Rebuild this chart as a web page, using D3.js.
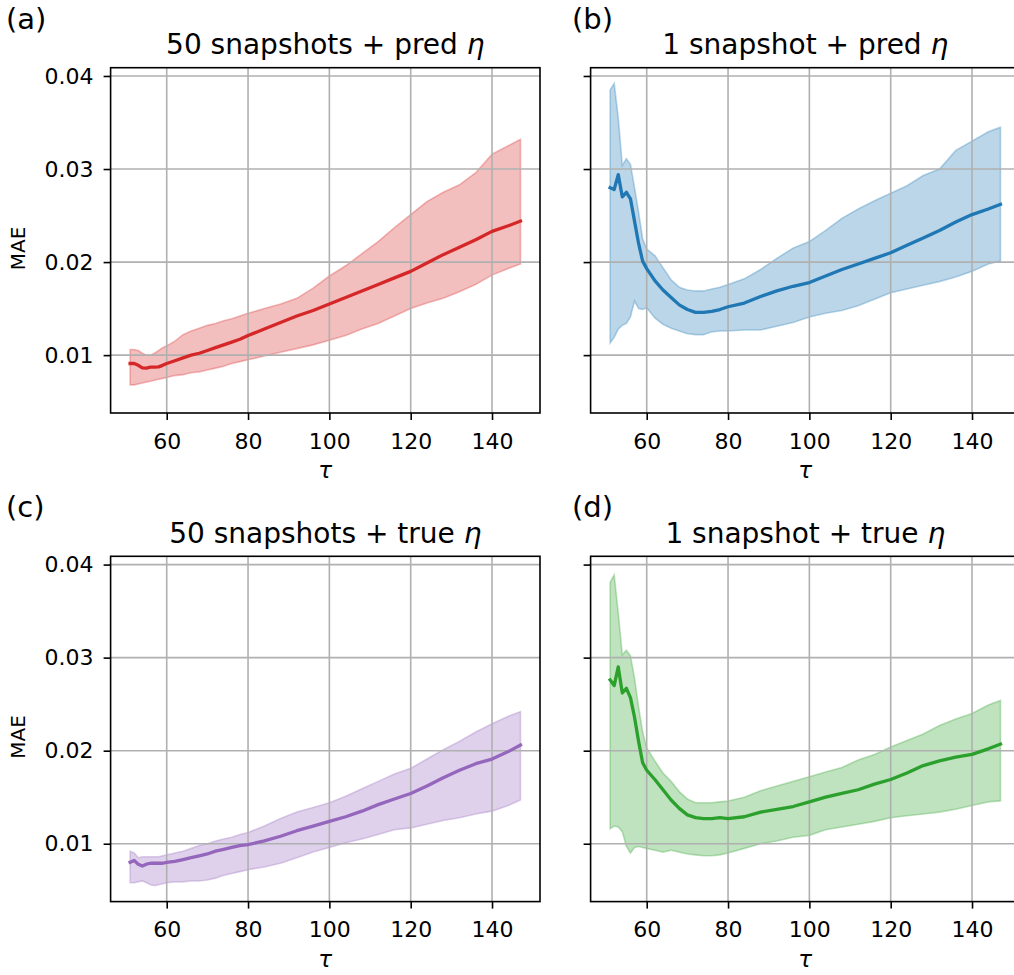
<!DOCTYPE html>
<html>
<head>
<style>
  body { margin: 0; background: #fff; }
  svg { display: block; }
  text { font-family: "DejaVu Sans", sans-serif; fill: #000; }
</style>
</head>
<body>
<svg></svg>
<script src="https://d3js.org/d3.v7.min.js"></script>
<script>
// tau sampling points
const tau = [51,52,53,54,55,56,57,58,59,60,62,64,66,68,70,72,74,76,78,80,84,88,92,96,100,104,108,112,116,120,124,128,132,136,140,144,147];

// (a) 50 snapshots + pred eta
const aMean = [0.0091,0.0091,0.0089,0.00863,0.0086,0.0087,0.0087,0.00874,0.0089,0.0091,0.0094,0.0097,0.0100,0.0102,0.0105,0.0108,0.0111,0.0114,0.0117,0.0121,0.0128,0.0135,0.0142,0.0148,0.0155,0.0162,0.0169,0.0176,0.0183,0.0190,0.0199,0.0208,0.0216,0.0224,0.0233,0.0239,0.0244];
const aHigh = [0.0106,0.0106,0.0105,0.0102,0.0100,0.0100,0.0102,0.0105,0.0108,0.0110,0.0115,0.0122,0.0126,0.0129,0.0132,0.0134,0.0137,0.0139,0.0142,0.0145,0.0150,0.0155,0.0161,0.0172,0.0185,0.0196,0.0209,0.0222,0.0237,0.0251,0.0265,0.0275,0.0283,0.0296,0.0316,0.0325,0.0332];
const aLow  = [0.0068,0.0068,0.0069,0.0070,0.0071,0.0072,0.0073,0.0074,0.0075,0.0076,0.0078,0.0079,0.0081,0.0082,0.0084,0.0086,0.0088,0.0091,0.0093,0.0095,0.0099,0.0103,0.0107,0.0111,0.0116,0.0121,0.0128,0.0134,0.0142,0.0150,0.0156,0.0161,0.0168,0.0176,0.0186,0.0193,0.0198];

// (b) 1 snapshot + pred eta
const bMean = [0.0280,0.0278,0.0294,0.0270,0.0275,0.0268,0.0244,0.0220,0.0201,0.0193,0.0180,0.0170,0.0162,0.0154,0.0149,0.0146,0.0146,0.0147,0.0149,0.0152,0.0156,0.0163,0.0169,0.0174,0.0178,0.0185,0.0192,0.0198,0.0204,0.0210,0.0218,0.0226,0.0234,0.0243,0.0251,0.0257,0.0262];
const bHigh = [0.0385,0.0392,0.0355,0.0304,0.0311,0.0305,0.0280,0.0254,0.0225,0.0214,0.0207,0.0194,0.0181,0.0173,0.0170,0.0169,0.0169,0.0171,0.0173,0.0176,0.0182,0.0192,0.0204,0.0215,0.0222,0.0234,0.0247,0.0257,0.0266,0.0274,0.0282,0.0293,0.0300,0.0320,0.0330,0.0340,0.0345];
const bLow  = [0.0113,0.0119,0.0128,0.0132,0.0134,0.0141,0.0158,0.0150,0.0149,0.0151,0.0140,0.0133,0.0129,0.0126,0.0123,0.0122,0.0122,0.0125,0.0126,0.0126,0.0127,0.0127,0.0131,0.0135,0.0141,0.0145,0.0148,0.0153,0.0160,0.0167,0.0171,0.0175,0.0179,0.0184,0.0190,0.0198,0.0201];

// (c) 50 snapshots + true eta
const cMean = [0.0080,0.0082,0.0078,0.0076,0.0078,0.0079,0.0079,0.0079,0.0079,0.0080,0.0081,0.0083,0.0085,0.0087,0.0089,0.0092,0.0094,0.0096,0.0098,0.0099,0.0103,0.0108,0.0114,0.0119,0.0124,0.0129,0.0135,0.0142,0.0148,0.0154,0.0162,0.0171,0.0179,0.0186,0.0191,0.0199,0.0206];
const cHigh = [0.0092,0.0090,0.0085,0.0086,0.0086,0.0086,0.0086,0.0086,0.0087,0.0088,0.0090,0.0092,0.0095,0.0098,0.0100,0.0103,0.0105,0.0107,0.0110,0.0112,0.0119,0.0127,0.0134,0.0139,0.0144,0.0151,0.0159,0.0167,0.0175,0.0181,0.0191,0.0201,0.0210,0.0220,0.0229,0.0237,0.0242];
const cLow  = [0.0058,0.0058,0.0059,0.0060,0.0058,0.0056,0.0055,0.0056,0.0057,0.0058,0.0059,0.0059,0.0060,0.0060,0.0061,0.0063,0.0066,0.0068,0.0070,0.0072,0.0075,0.0079,0.0085,0.0091,0.0096,0.0101,0.0105,0.0110,0.0115,0.0117,0.0121,0.0125,0.0128,0.0132,0.0135,0.0141,0.0147];

// (d) 1 snapshot + true eta
const dMean = [0.0276,0.0270,0.0290,0.0262,0.0267,0.0257,0.0236,0.0210,0.0187,0.0179,0.0169,0.0158,0.0147,0.0138,0.0131,0.0128,0.0127,0.0127,0.0128,0.0127,0.0129,0.0134,0.0137,0.0140,0.0145,0.0150,0.0154,0.0158,0.0164,0.0169,0.0176,0.0184,0.0189,0.0193,0.0196,0.0202,0.0207];
const dHigh = [0.0381,0.0389,0.0348,0.0303,0.0308,0.0302,0.0278,0.0247,0.0220,0.0203,0.0189,0.0176,0.0167,0.0156,0.0148,0.0144,0.0144,0.0144,0.0145,0.0146,0.0150,0.0157,0.0162,0.0167,0.0172,0.0177,0.0182,0.0190,0.0196,0.0204,0.0211,0.0218,0.0227,0.0234,0.0240,0.0249,0.0254];
const dLow  = [0.0116,0.0119,0.0118,0.0113,0.0097,0.0090,0.0096,0.0097,0.0096,0.0095,0.0093,0.0091,0.0093,0.0091,0.0089,0.0088,0.0087,0.0087,0.0088,0.0090,0.0095,0.0100,0.0103,0.0107,0.0109,0.0115,0.0118,0.0121,0.0124,0.0128,0.0130,0.0132,0.0134,0.0137,0.0141,0.0145,0.0146];

const xTicks = [60, 80, 100, 120, 140];
const yTicks = [0.01, 0.02, 0.03, 0.04];

const panels = [
  {mean: aMean, high: aHigh, low: aLow, color: "#d62728", title: "50 snapshots + pred ", tag: "(a)", col: 0, row: 0},
  {mean: bMean, high: bHigh, low: bLow, color: "#1f77b4", title: "1 snapshot + pred ", tag: "(b)", col: 1, row: 0},
  {mean: cMean, high: cHigh, low: cLow, color: "#9467bd", title: "50 snapshots + true ", tag: "(c)", col: 0, row: 1},
  {mean: dMean, high: dHigh, low: dLow, color: "#2ca02c", title: "1 snapshot + true ", tag: "(d)", col: 1, row: 1}
];

const W = 1014, H = 975;
const pw = 429.4, ph = 345.3;
const lefts = [110.6, 590.6], tops = [67.7, 556.3];

const svg = d3.select("svg").attr("width", W).attr("height", H);

const x = d3.scaleLinear().domain([46.2, 151.8]).range([0, pw]);
const y = d3.scaleLinear().domain([0.00378, 0.04089]).range([ph, 0]);

panels.forEach(function(p) {
  const g = svg.append("g")
    .attr("transform", "translate(" + lefts[p.col] + "," + tops[p.row] + ")");

  const rows = tau.map(function(t, i) { return {t: t, m: p.mean[i], lo: p.low[i], hi: p.high[i]}; });

  // band
  g.append("path")
    .datum(rows)
    .attr("d", d3.area().x(d => x(d.t)).y0(d => y(d.lo)).y1(d => y(d.hi)))
    .attr("fill", p.color).attr("fill-opacity", 0.3)
    .attr("stroke", p.color).attr("stroke-opacity", 0.3).attr("stroke-width", 1.6);

  // grid
  g.selectAll(".vg").data(xTicks).enter().append("line")
    .attr("x1", d => x(d)).attr("x2", d => x(d)).attr("y1", 0).attr("y2", ph)
    .attr("stroke", "#b0b0b0").attr("stroke-width", 1.6);
  g.selectAll(".hg").data(yTicks).enter().append("line")
    .attr("x1", 0).attr("x2", pw).attr("y1", d => y(d)).attr("y2", d => y(d))
    .attr("stroke", "#b0b0b0").attr("stroke-width", 1.6);

  // mean line
  g.append("path")
    .datum(rows)
    .attr("d", d3.line().x(d => x(d.t)).y(d => y(d.m)))
    .attr("fill", "none").attr("stroke", p.color).attr("stroke-width", 3.3)
    .attr("stroke-linejoin", "round").attr("stroke-linecap", "square");

  // axes
  const xa = g.append("g").attr("transform", "translate(0," + ph + ")")
    .call(d3.axisBottom(x).tickValues(xTicks).tickSize(7).tickPadding(13));
  const ya = g.append("g")
    .call(d3.axisLeft(y).tickValues(yTicks).tickSize(7).tickPadding(10)
      .tickFormat(p.col === 0 ? d3.format(".2f") : ""));
  [xa, ya].forEach(function(a) {
    a.select(".domain").remove();
    a.selectAll(".tick line").attr("stroke", "#000").attr("stroke-width", 1.6);
    a.selectAll(".tick text").style("font-size", "22px").attr("fill", "#000");
  });

  // spines
  g.append("rect").attr("width", pw).attr("height", ph)
    .attr("fill", "none").attr("stroke", "#000").attr("stroke-width", 1.6);

  // title
  const t = g.append("text").attr("x", pw / 2).attr("y", -13.5)
    .attr("text-anchor", "middle").style("font-size", "28px")
    .text(p.title);
  t.append("tspan").style("font-style", "italic").text("η");

  // x label
  g.append("text").attr("x", pw / 2).attr("y", ph + 65)
    .attr("text-anchor", "middle").style("font-size", "23px").style("font-style", "italic")
    .text("τ");

  // y label
  if (p.col === 0) {
    g.append("text")
      .attr("transform", "translate(" + (-86) + "," + (ph / 2 + 8) + ") rotate(-90)")
      .attr("text-anchor", "middle").style("font-size", "20px")
      .text("MAE");
  }

  // panel tag
  svg.append("text")
    .attr("x", p.col === 0 ? 6 : 572).attr("y", tops[p.row] - 39)
    .style("font-size", "29px").text(p.tag);
});
</script>
</body>
</html>
